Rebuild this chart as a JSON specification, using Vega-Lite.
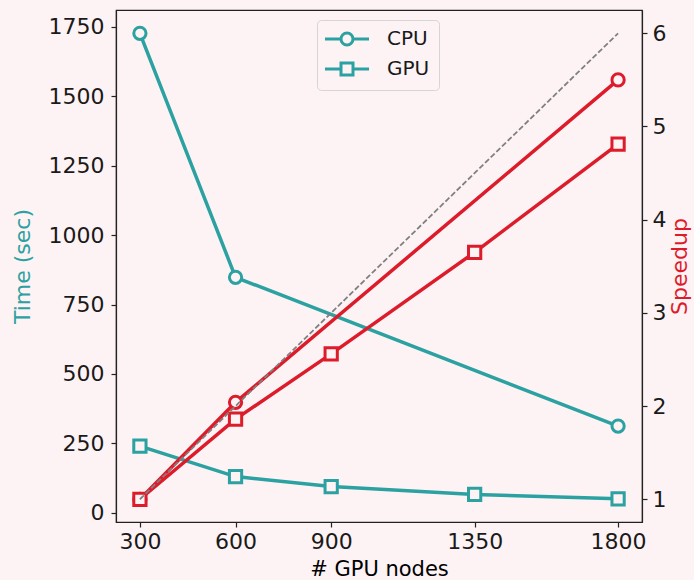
{
  "$schema": "https://vega.github.io/schema/vega-lite/v6.json",
  "width": 526,
  "height": 512,
  "autosize": {"type": "none"},
  "padding": {"left": 116, "top": 10, "right": 52, "bottom": 58},
  "background": "#fdf3f4",
  "config": {
    "font": "DejaVu Sans",
    "view": {"stroke": "#222222", "strokeWidth": 1.2},
    "axis": {
      "grid": false,
      "domainColor": "#222222",
      "domainWidth": 1.2,
      "tickColor": "#222222",
      "tickWidth": 1.2,
      "tickSize": 5,
      "labelFont": "DejaVu Sans",
      "titleFont": "DejaVu Sans",
      "labelFontSize": 22,
      "titleFontSize": 22,
      "labelColor": "#1a1a1a",
      "titleFontWeight": "normal",
      "format": "d"
    }
  },
  "datasets": {
    "time": [
      {"nodes": 300, "proc": "CPU", "value": 1727},
      {"nodes": 600, "proc": "CPU", "value": 848},
      {"nodes": 1800, "proc": "CPU", "value": 312},
      {"nodes": 300, "proc": "GPU", "value": 240},
      {"nodes": 600, "proc": "GPU", "value": 130},
      {"nodes": 900, "proc": "GPU", "value": 94},
      {"nodes": 1350, "proc": "GPU", "value": 66},
      {"nodes": 1800, "proc": "GPU", "value": 50}
    ],
    "speedup": [
      {"nodes": 300, "proc": "CPU", "value": 1.0},
      {"nodes": 600, "proc": "CPU", "value": 2.04},
      {"nodes": 1800, "proc": "CPU", "value": 5.5},
      {"nodes": 300, "proc": "GPU", "value": 1.0},
      {"nodes": 600, "proc": "GPU", "value": 1.86},
      {"nodes": 900, "proc": "GPU", "value": 2.56},
      {"nodes": 1350, "proc": "GPU", "value": 3.65},
      {"nodes": 1800, "proc": "GPU", "value": 4.81}
    ],
    "ideal": [
      {"nodes": 300, "value": 1},
      {"nodes": 1800, "value": 6}
    ]
  },
  "layer": [
    {
      "data": {"name": "time"},
      "encoding": {
        "x": {
          "field": "nodes", "type": "quantitative",
          "scale": {"domain": [225, 1875], "nice": false, "zero": false},
          "axis": {"values": [300, 600, 900, 1350, 1800], "title": "# GPU nodes", "titleFontSize": 21, "labelPadding": 4, "titlePadding": 6}
        },
        "y": {
          "field": "value", "type": "quantitative",
          "scale": {"domain": [-33.5, 1811], "nice": false, "zero": false},
          "axis": {"orient": "left", "values": [0, 250, 500, 750, 1000, 1250, 1500, 1750], "title": "Time (sec)", "titleColor": "#2ca1a1", "labelPadding": 7, "titlePadding": 14}
        }
      },
      "layer": [
        {
          "mark": {"type": "line", "color": "#2ca1a1", "strokeWidth": 3.5},
          "encoding": {"detail": {"field": "proc", "type": "nominal"}}
        },
        {
          "transform": [{"filter": "datum.proc === 'CPU'"}],
          "mark": {"type": "point", "shape": "circle", "filled": true, "fill": "#fdf3f4", "stroke": "#2ca1a1", "strokeWidth": 3, "size": 150, "opacity": 1}
        },
        {
          "transform": [{"filter": "datum.proc === 'GPU'"}],
          "mark": {"type": "point", "shape": "square", "filled": true, "fill": "#fdf3f4", "stroke": "#2ca1a1", "strokeWidth": 3, "size": 150, "opacity": 1}
        },
        {
          "mark": {"type": "point", "filled": false, "color": "#2ca1a1", "strokeWidth": 3, "size": 144, "opacity": 0},
          "encoding": {
            "shape": {
              "field": "proc", "type": "nominal",
              "scale": {"domain": ["CPU", "GPU"], "range": ["M-3.67,0H-1M1,0H3.67M1,0C1,0.5523,0.5523,1,0,1C-0.5523,1,-1,0.5523,-1,0C-1,-0.5523,-0.5523,-1,0,-1C0.5523,-1,1,-0.5523,1,0Z", "M-3.67,0H-1M1,0H3.67M-1,-1H1V1H-1Z"]},
              "legend": {
                "orient": "none", "legendX": 201, "legendY": 10, "title": null,
                "labelFontSize": 20, "labelFont": "DejaVu Sans", "labelColor": "#1a1a1a",
                "symbolSize": 144, "symbolStrokeWidth": 3, "symbolOpacity": 1,
                "symbolOffset": 11, "labelOffset": 30,
                "fillColor": "#fdf3f4", "strokeColor": "#d5d5d5", "cornerRadius": 4, "padding": 9,
                "rowPadding": 6
              }
            }
          }
        }
      ]
    },
    {
      "encoding": {
        "x": {
          "field": "nodes", "type": "quantitative",
          "scale": {"domain": [225, 1875], "nice": false, "zero": false}
        },
        "y": {
          "field": "value", "type": "quantitative",
          "scale": {"domain": [0.756, 6.25], "nice": false, "zero": false},
          "axis": {"orient": "right", "values": [1, 2, 3, 4, 5, 6], "title": "Speedup", "titleColor": "#dd1c2b", "titleAngle": 270, "titleBaseline": "top", "labelPadding": 5, "titlePadding": 4}
        }
      },
      "layer": [
        {
          "data": {"name": "speedup"},
          "mark": {"type": "line", "color": "#dd1c2b", "strokeWidth": 3.5},
          "encoding": {"detail": {"field": "proc", "type": "nominal"}}
        },
        {
          "data": {"name": "speedup"},
          "transform": [{"filter": "datum.proc === 'CPU'"}],
          "mark": {"type": "point", "shape": "circle", "filled": true, "fill": "#fdf3f4", "stroke": "#dd1c2b", "strokeWidth": 3, "size": 150, "opacity": 1}
        },
        {
          "data": {"name": "speedup"},
          "transform": [{"filter": "datum.proc === 'GPU'"}],
          "mark": {"type": "point", "shape": "square", "filled": true, "fill": "#fdf3f4", "stroke": "#dd1c2b", "strokeWidth": 3, "size": 150, "opacity": 1}
        },
        {
          "data": {"name": "ideal"},
          "mark": {"type": "line", "color": "#808080", "strokeWidth": 1.8, "strokeDash": [5.5, 2.4]},
          "encoding": {}
        }
      ]
    }
  ],
  "resolve": {"scale": {"y": "independent"}}
}
